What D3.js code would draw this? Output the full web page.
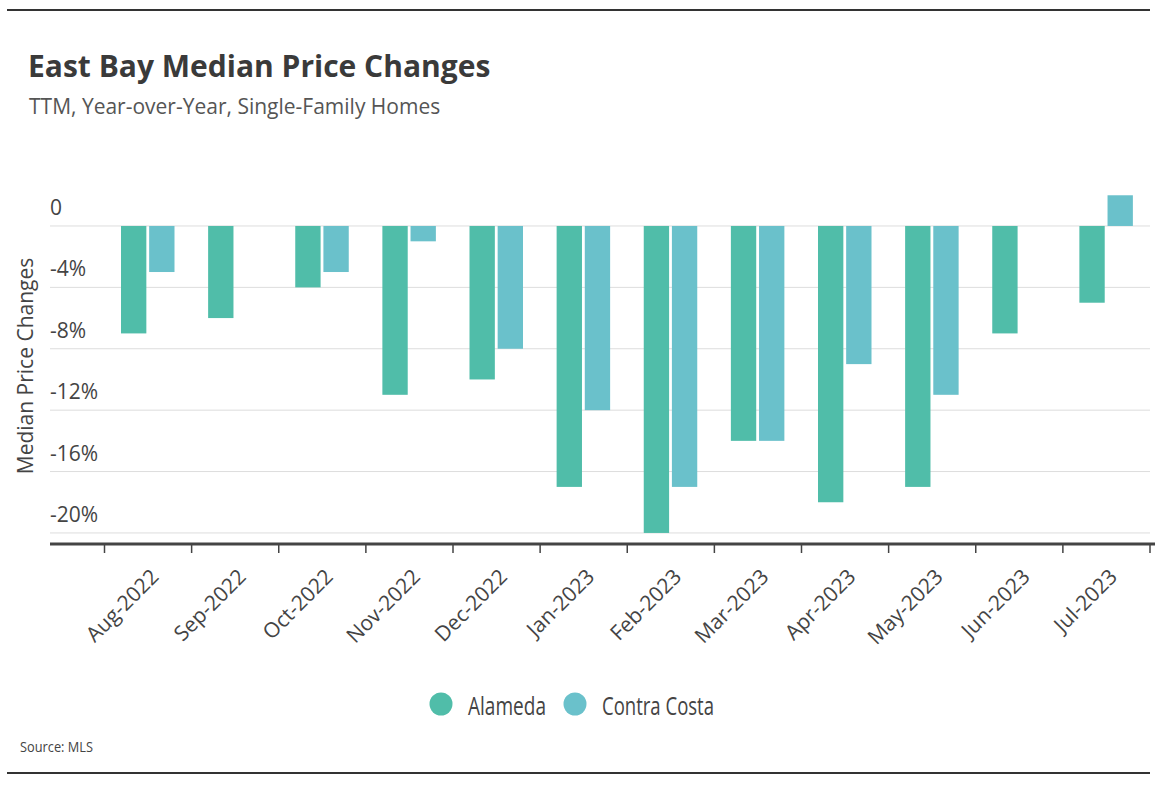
<script src="https://d3js.org/d3.v7.min.js"></script>
<style>
  body { margin: 0; background: #fff; }
  text { font-family: "Open Sans", "Noto Sans", sans-serif; fill: #444; }
</style>
<svg id="chart" width="1162" height="788"></svg>
<script>
// data
var months = ["Aug-2022", "Sep-2022", "Oct-2022", "Nov-2022", "Dec-2022", "Jan-2023",
              "Feb-2023", "Mar-2023", "Apr-2023", "May-2023", "Jun-2023", "Jul-2023"];
var alameda = [-7, -6, -4, -11, -10, -17, -20, -14, -18, -17, -7, -5];
var contraCosta = [-3, null, -3, -1, -8, -12, -17, -14, -9, -11, null, 2];
var series = ["Alameda", "Contra Costa"];
var yTicks = [0, -4, -8, -12, -16, -20];

var colors = { "Alameda": "#50bda9", "Contra Costa": "#6ac1cb" };

var svg = d3.select("#chart");

// frame lines top / bottom
svg.append("line").attr("x1", 7).attr("x2", 1150).attr("y1", 10).attr("y2", 10)
  .attr("stroke", "#333").attr("stroke-width", 2);
svg.append("line").attr("x1", 7).attr("x2", 1150).attr("y1", 773).attr("y2", 773)
  .attr("stroke", "#333").attr("stroke-width", 2);

// titles
svg.append("text").attr("x", 28).attr("y", 77)
  .style("font-weight", "bold")
  .style("font-size", "30px").style("fill", "#3a3a3a")
  .text("East Bay Median Price Changes");
svg.append("text").attr("x", 29).attr("y", 114)
  .style("font-size", "21px").style("fill", "#555")
  .text("TTM, Year-over-Year, Single-Family Homes");

// scales
var x = d3.scaleBand().domain(months).range([104.5, 1150]);
var inner = d3.scaleBand().domain(series).range([16.5, 70]).paddingInner(0.1);
var y = d3.scaleLinear().domain([-20.72, 2.5]).range([544, 187.6]);

// gridlines
svg.append("g").selectAll("line").data(yTicks).enter().append("line")
  .attr("x1", 50).attr("x2", 1150)
  .attr("y1", function(d) { return y(d); })
  .attr("y2", function(d) { return y(d); })
  .attr("stroke", "#ddd").attr("stroke-width", 1);

// y labels sit above gridlines
svg.append("g").selectAll("text").data(yTicks).enter().append("text")
  .attr("x", 50).attr("y", function(d) { return y(d) - 11; })
  .style("font-size", "21px")
  .text(function(d) { return d === 0 ? "0" : d + "%"; });

// y axis title
svg.append("text")
  .attr("transform", "translate(33,366) rotate(-90)")
  .attr("text-anchor", "middle")
  .style("font-size", "21px")
  .text("Median Price Changes");

// bars
var rows = months.map(function(m, i) {
  return { month: m, values: [
    { key: "Alameda", v: alameda[i] },
    { key: "Contra Costa", v: contraCosta[i] }
  ] };
});

var groups = svg.append("g").selectAll("g").data(rows).enter().append("g")
  .attr("transform", function(d) { return "translate(" + x(d.month) + ",0)"; });

groups.selectAll("rect")
  .data(function(d) { return d.values.filter(function(e) { return e.v !== null; }); })
  .enter().append("rect")
  .attr("x", function(d) { return inner(d.key); })
  .attr("width", inner.bandwidth())
  .attr("y", function(d) { return y(Math.max(0, d.v)); })
  .attr("height", function(d) { return Math.abs(y(d.v) - y(0)); })
  .attr("fill", function(d) { return colors[d.key]; });

// x axis
var xAxis = svg.append("g").attr("transform", "translate(0,544)");
xAxis.append("line").attr("x1", 50).attr("x2", 1155).attr("y1", 0).attr("y2", 0)
  .attr("stroke", "#444").attr("stroke-width", 3);
var edges = months.map(function(m) { return x(m); }).concat([x.range()[1]]);
xAxis.selectAll(".tick").data(edges).enter().append("line")
  .attr("x1", function(d) { return d; }).attr("x2", function(d) { return d; })
  .attr("y1", 0).attr("y2", 9)
  .attr("stroke", "#444").attr("stroke-width", 1.5);
xAxis.selectAll(".lab").data(months).enter().append("text")
  .attr("text-anchor", "end")
  .attr("transform", function(d) {
    return "translate(" + (x(d) + x.bandwidth() / 2 + 12) + ",34) rotate(-45)";
  })
  .style("font-size", "21px")
  .text(function(d) { return d; });

// legend (narrow face in the original, squeeze to its widths)
var legend = svg.append("g").attr("transform", "translate(441,704)");
var lx = [0, 134];
var lw = [78, 112];
series.forEach(function(s, i) {
  legend.append("circle").attr("cx", lx[i]).attr("cy", 0).attr("r", 11.5)
    .attr("fill", colors[s]);
  legend.append("text").attr("x", lx[i] + 27).attr("y", 11)
    .attr("textLength", lw[i]).attr("lengthAdjust", "spacingAndGlyphs")
    .style("font-size", "25px").text(s);
});

// source
svg.append("text").attr("x", 20).attr("y", 752)
  .attr("textLength", 73).attr("lengthAdjust", "spacingAndGlyphs")
  .style("font-size", "14px").style("fill", "#444")
  .text("Source: MLS");
</script>
